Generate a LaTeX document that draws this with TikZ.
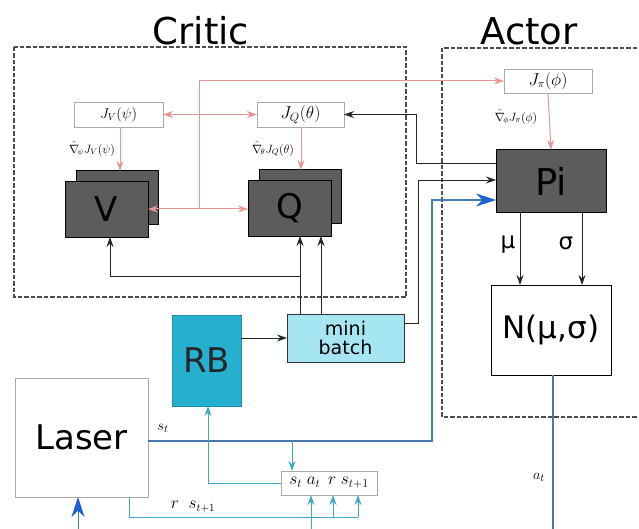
\documentclass[tikz,border=0pt]{standalone}
\usepackage{fontspec}
\setmainfont{DejaVu Sans}
\usetikzlibrary{arrows.meta}
\definecolor{dkgray}{RGB}{92,92,92}
\definecolor{pinkc}{RGB}{230,150,150}
\definecolor{cyanc}{RGB}{60,170,195}
\definecolor{rbfill}{RGB}{37,176,208}
\definecolor{mbfill}{RGB}{165,230,242}
\definecolor{steel}{RGB}{70,120,170}
\definecolor{bluehead}{RGB}{31,95,216}
\definecolor{boxgray}{RGB}{170,170,170}
\begin{document}
\begin{tikzpicture}[x=1pt,y=-1pt,
  every node/.style={inner sep=0pt,outer sep=0pt},
  fbox/.style={draw=boxgray,line width=0.8pt,fill=white},
  dbox/.style={draw=black,line width=1pt,fill=dkgray},
  dashbox/.style={draw=black!70,line width=1.2pt,dash pattern=on 4.5pt off 2pt},
  pinkline/.style={draw=pinkc,line width=1pt},
  pinkarr/.style={pinkline,-{Stealth[length=10pt,width=7pt]}},
  pinkboth/.style={pinkline,{Stealth[length=10pt,width=7pt]}-{Stealth[length=10pt,width=7pt]}},
  blk/.style={draw=black!85,line width=0.9pt},
  blkarr/.style={blk,-{Stealth[length=10pt,width=7pt]}},
  cyl/.style={draw=cyanc,line width=0.9pt},
  cyarr/.style={cyl,-{Stealth[length=10pt,width=7pt]}},
  stl/.style={draw=steel,line width=1.4pt},
  bigblue/.style={-{Stealth[length=20pt,width=13pt,color=bluehead]}},
  big/.style={font=\fontsize{34}{36}\selectfont},
  lbl/.style={font=\fontsize{12}{13}\selectfont},
]
\useasboundingbox (0,0) rectangle (639,529);
% titles
\node (tcritic) at (201,31) {\fontsize{37}{40}\selectfont Critic};
\node (tactor) at (529,31) {\fontsize{37}{40}\selectfont Actor};
% dashed containers
\draw[dashbox] (14,47) rectangle (406,297);
\draw[dashbox] (650,48) -- (442,48) -- (442,417) -- (650,417);
% J boxes
\node[fbox,minimum width=89pt,minimum height=25pt] (JV) at (118.5,114.5) {\fontsize{14}{15}\selectfont $J_V(\psi)$};
\node[fbox,minimum width=87pt,minimum height=25pt] (JQ) at (300.5,114.5) {\fontsize{17}{18}\selectfont $J_Q(\theta)$};
\node[fbox,minimum width=88pt,minimum height=24pt] (Jpi) at (548,81) {\fontsize{16}{17}\selectfont $J_\pi(\phi)$};
\node[lbl] (gV) at (92,149) {$\hat{\nabla}_{\!\psi} J_V(\psi)$};
\node[lbl] (gQ) at (273,149) {$\hat{\nabla}_{\!\theta} J_Q(\theta)$};
\node[lbl] (gP) at (516,117) {$\hat{\nabla}_{\!\phi} J_\pi(\phi)$};
% V and Q stacks
\node[dbox,minimum width=82pt,minimum height=54pt] (Vb) at (117,198) {};
\node[dbox,minimum width=83pt,minimum height=55pt,big] (V) at (106.5,209.5) {V};
\node[dbox,minimum width=82pt,minimum height=54pt] (Qb) at (300,197) {};
\node[dbox,minimum width=83pt,minimum height=55pt,big] (Q) at (289.5,208.5) {Q};
% Pi and N
\node[dbox,minimum width=110pt,minimum height=63pt,font=\fontsize{37}{40}\selectfont] (Pi) at (551,181.5) {Pi};
\node[draw=black,line width=1pt,fill=white,minimum width=120pt,minimum height=90pt,font=\fontsize{31}{34}\selectfont] (N) at (551,330) {N(μ,σ)};
% mini batch, RB
\node[draw=black!80,line width=1pt,fill=mbfill,minimum width=117pt,minimum height=48pt,align=center,font=\fontsize{19}{19}\selectfont] (MB) at (345.5,338) {mini\\batch};
\node[draw=rbfill!80!black,line width=0.6pt,fill=rbfill,minimum width=69pt,minimum height=91pt,big,text=black!85] (RB) at (206.5,360.5) {RB};
% Laser and tuple
\node[fbox,minimum width=133pt,minimum height=119pt,big] (Laser) at (81.5,437.5) {Laser};
\node[fbox,minimum width=96pt,minimum height=24pt,font=\fontsize{17}{18}\selectfont] (T) at (329,483) {$s_t\;a_t\;\,r\;s_{t+1}$};
% coordinates
\coordinate (pk1) at (199,81);
\coordinate (pk2) at (199,209);
\coordinate (b1) at (416,163);
\coordinate (b2) at (416,114.5);
\coordinate (m1) at (418,323);
\coordinate (m2) at (418,180);
\coordinate (s1) at (432,441);
\coordinate (s2) at (432,200);
\coordinate (c1) at (292,441);
\coordinate (r1) at (208,483);
\coordinate (l1) at (129,517);
\coordinate (l2) at (358,517);
\coordinate (l3) at (333,517);
\coordinate (a1) at (311,529);
\coordinate (a2) at (78,529);
\coordinate (at1) at (553,529);
\coordinate (q1) at (300,276);
\coordinate (q2) at (110,276);
% pink connectors
\draw[pinkboth] (JV.east) -- (JQ.west);
\draw[pinkline] (pk2) -- (pk1);
\draw[pinkarr] (pk1) -- (pk1 -| Jpi.west);
\draw[pinkboth] (V.east |- pk2) -- (Q.west |- pk2);
\draw[pinkarr] (JV.south -| 120,0) -- (Vb.north -| 120,0);
\draw[pinkarr] (JQ.south -| 301,0) -- (Qb.north -| 301,0);
\draw[pinkarr] (Jpi.south) -- (Pi.north);
% black connectors
\draw[blkarr] (Pi.west |- b1) -- (b1) -- (b2) -- (JQ.east);
\draw[blkarr] (MB.east |- m1) -- (m1) -- (m2) -- (Pi.west |- m2);
\draw[blkarr] (MB.north -| 300,0) -- (Q.south -| 300,0);
\draw[blkarr] (MB.north -| 321,0) -- (Q.south -| 321,0);
\draw[blkarr] (q1) -- (q2) -- (V.south -| q2);
\draw[blkarr] (RB.east |- MB.west) -- (MB.west);
\draw[blkarr] (Pi.south -| 520,0) -- (N.north -| 520,0);
\draw[blkarr] (Pi.south -| 582,0) -- (N.north -| 582,0);
\node[font=\fontsize{23}{24}\selectfont] (mu) at (508,245) {μ};
\node[font=\fontsize{23}{24}\selectfont] (sg) at (566,243) {σ};
% blue state line
\draw[stl,bigblue] (Laser.east |- s1) -- (s1) -- (s2) -- (Pi.west |- s2);
\node[font=\fontsize{15}{16}\selectfont] (stl) at (163,428) {$s_t$};
% cyan connectors
\draw[cyarr] (c1) -- (c1 |- T.north);
\draw[cyarr] (T.west) -- (r1) -- (RB.south -| r1);
\draw[cyl] (Laser.south -| l1) -- (l1) -- (l2);
\draw[cyarr] (l2) -- (l2 |- T.south);
\draw[cyarr] (l3) -- (l3 |- T.south);
\draw[cyarr] (a1) -- (a1 |- T.south);
\node[font=\fontsize{16}{17}\selectfont] (rs) at (193,507) {$r\;\;s_{t+1}$};
% action line
\draw[stl] (N.south -| at1) -- (at1);
\node[font=\fontsize{15}{16}\selectfont] (atl) at (539,477) {$a_t$};
\draw[draw=steel,line width=1pt,bigblue] (a2) -- (Laser.south -| a2);
\end{tikzpicture}
\end{document}
